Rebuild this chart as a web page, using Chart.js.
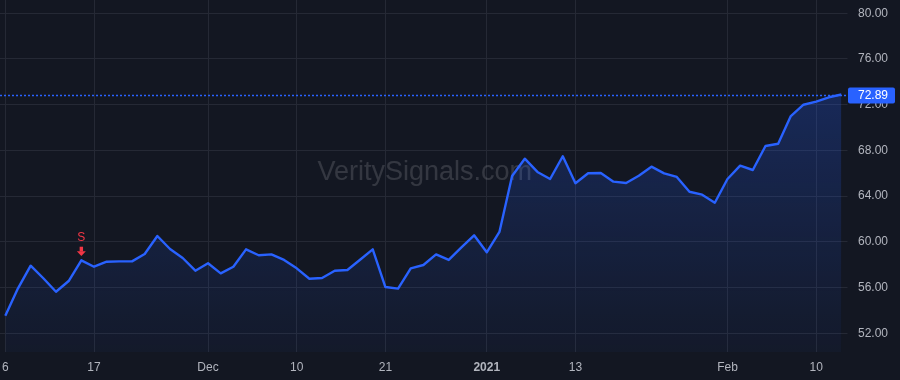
<!DOCTYPE html>
<html>
<head>
<meta charset="utf-8">
<script src="https://cdn.jsdelivr.net/npm/chart.js@4"></script>
<style>
    html, body { margin: 0; padding: 0; background: #131722; }
    #wrap { width: 900px; height: 380px; }
</style>
</head>
<body>
<div id="wrap"><canvas id="priceChart" width="900" height="380"></canvas></div>
<script>
// trading days, Nov 2020 - Feb 2021
const dates = [
    '2020-11-06', '2020-11-09', '2020-11-10', '2020-11-11', '2020-11-12', '2020-11-13',
    '2020-11-16', '2020-11-17', '2020-11-18', '2020-11-19', '2020-11-20', '2020-11-23',
    '2020-11-24', '2020-11-25', '2020-11-27', '2020-11-30', '2020-12-01', '2020-12-02',
    '2020-12-03', '2020-12-04', '2020-12-07', '2020-12-08', '2020-12-09', '2020-12-10',
    '2020-12-11', '2020-12-14', '2020-12-15', '2020-12-16', '2020-12-17', '2020-12-18',
    '2020-12-21', '2020-12-22', '2020-12-23', '2020-12-24', '2020-12-28', '2020-12-29',
    '2020-12-30', '2020-12-31', '2021-01-04', '2021-01-05', '2021-01-06', '2021-01-07',
    '2021-01-08', '2021-01-11', '2021-01-12', '2021-01-13', '2021-01-14', '2021-01-15',
    '2021-01-19', '2021-01-20', '2021-01-21', '2021-01-22', '2021-01-25', '2021-01-26',
    '2021-01-27', '2021-01-28', '2021-01-29', '2021-02-01', '2021-02-02', '2021-02-03',
    '2021-02-04', '2021-02-05', '2021-02-08', '2021-02-09', '2021-02-10', '2021-02-11',
    '2021-02-12'
];

const closes = [
    53.54, 55.94, 57.92, 56.82, 55.64, 56.58, 58.39, 57.83, 58.27, 58.30,
    58.30, 58.94, 60.52, 59.38, 58.59, 57.48, 58.13, 57.25, 57.83, 59.35,
    58.83, 58.91, 58.42, 57.69, 56.78, 56.84, 57.48, 57.54, 58.44, 59.35,
    56.05, 55.91, 57.69, 57.98, 58.91, 58.42, 59.53, 60.58, 59.09, 60.87,
    65.77, 67.28, 66.12, 65.50, 67.49, 65.13, 66.00, 66.03, 65.27, 65.15,
    65.79, 66.58, 66.00, 65.68, 64.39, 64.13, 63.43, 65.50, 66.67, 66.29,
    68.39, 68.59, 71.01, 72.00, 72.27, 72.65, 72.89
];

const tickDates = ['2020-11-06', '2020-11-17', '2020-12-01', '2020-12-10', '2020-12-21',
    '2021-01-04', '2021-01-13', '2021-02-01', '2021-02-10'];
const tickLabels = ['6', '17', 'Dec', '10', '21', '2021', '13', 'Feb', '10'];
const priceTicks = [52, 56, 60, 64, 68, 72, 76, 80];

const signalDates = ['2020-11-16'];
const signalLabels = ['S'];

const lastPrice = closes[closes.length - 1];

const LINE_COLOR = '#2962ff';
const GRID_COLOR = '#252935';
const TEXT_COLOR = '#b2b5be';
const SELL_COLOR = '#f23645';
const FONT = '"Liberation Sans", Arial, sans-serif';

const points = closes.map((v, i) => ({ x: i, y: v }));

const watermark = {
    id: 'watermark',
    beforeDatasetsDraw(chart) {
        const { ctx, chartArea } = chart;
        ctx.save();
        ctx.font = '27px ' + FONT;
        ctx.fillStyle = 'rgba(255, 255, 255, 0.14)';
        ctx.textAlign = 'center';
        ctx.textBaseline = 'middle';
        ctx.fillText('VeritySignals.com', (chartArea.left + chartArea.right) / 2 + 4, chartArea.top + chartArea.height * 0.489);
        ctx.restore();
    }
};

const overlays = {
    id: 'overlays',
    afterDraw(chart) {
        const { ctx, chartArea } = chart;
        const xs = chart.scales.x;
        const ys = chart.scales.y;

        // sell signals
        signalDates.forEach((d, k) => {
            const i = dates.indexOf(d);
            const px = xs.getPixelForValue(i);
            const py = ys.getPixelForValue(closes[i]);
            ctx.save();
            ctx.fillStyle = SELL_COLOR;
            ctx.font = '12px ' + FONT;
            ctx.textAlign = 'center';
            ctx.textBaseline = 'middle';
            ctx.fillText(signalLabels[k], px, py - 23);
            ctx.fillRect(px - 1.7, py - 13.6, 3.4, 4.8);
            ctx.beginPath();
            ctx.moveTo(px - 4.5, py - 9);
            ctx.lineTo(px + 4.5, py - 9);
            ctx.lineTo(px, py - 4.2);
            ctx.closePath();
            ctx.fill();
            ctx.restore();
        });

        // last price line + label
        const ly = Math.round(ys.getPixelForValue(lastPrice)) + 0.5;
        ctx.save();
        ctx.strokeStyle = LINE_COLOR;
        ctx.lineWidth = 1.5;
        ctx.setLineDash([2, 2]);
        ctx.beginPath();
        ctx.moveTo(0, ly);
        ctx.lineTo(chartArea.right + 6, ly);
        ctx.stroke();
        ctx.setLineDash([]);
        ctx.fillStyle = LINE_COLOR;
        ctx.beginPath();
        ctx.roundRect(chartArea.right + 6.5, ly - 8, 47, 16, 2);
        ctx.fill();
        ctx.fillStyle = '#ffffff';
        ctx.font = '12px ' + FONT;
        ctx.textAlign = 'left';
        ctx.textBaseline = 'middle';
        ctx.fillText(lastPrice.toFixed(2), chartArea.right + 16.5, ly + 0.5);
        ctx.restore();
    }
};

new Chart(document.getElementById('priceChart'), {
    type: 'line',
    data: {
        datasets: [{
            data: points,
            borderColor: LINE_COLOR,
            borderWidth: 2.4,
            borderJoinStyle: 'round',
            pointRadius: 0,
            tension: 0,
            fill: 'start',
            backgroundColor: (context) => {
                const area = context.chart.chartArea;
                if (!area) return 'rgba(41, 98, 255, 0.15)';
                const g = context.chart.ctx.createLinearGradient(0, area.top, 0, area.bottom);
                g.addColorStop(0, 'rgba(41, 98, 255, 0.32)');
                g.addColorStop(1, 'rgba(41, 98, 255, 0.04)');
                return g;
            }
        }]
    },
    options: {
        responsive: false,
        animation: false,
        layout: { padding: 0 },
        plugins: {
            legend: { display: false },
            tooltip: { enabled: false }
        },
        scales: {
            x: {
                type: 'linear',
                min: -0.42,
                max: 66,
                afterBuildTicks: (scale) => {
                    scale.ticks = tickDates.map(d => ({ value: dates.indexOf(d) }));
                },
                afterFit: (scale) => {
                    scale.height = 28;
                    scale.paddingLeft = 0;
                    scale.paddingRight = 0;
                },
                grid: { color: GRID_COLOR, drawTicks: false },
                border: { display: false },
                ticks: {
                    color: TEXT_COLOR,
                    padding: 8,
                    maxRotation: 0,
                    autoSkip: false,
                    font: (ctx) => ({
                        family: FONT,
                        size: 12,
                        weight: ctx.tick && tickLabels[tickDates.indexOf(dates[ctx.tick.value])] === '2021' ? 'bold' : 'normal'
                    }),
                    callback: (value) => tickLabels[tickDates.indexOf(dates[value])]
                }
            },
            y: {
                position: 'right',
                min: 50.37,
                max: 81.16,
                afterBuildTicks: (scale) => {
                    scale.ticks = priceTicks.map(v => ({ value: v }));
                },
                afterFit: (scale) => {
                    scale.width = 58.5;
                    scale.paddingTop = 0;
                    scale.paddingBottom = 0;
                },
                grid: { color: GRID_COLOR, tickLength: 6 },
                border: { display: false },
                ticks: {
                    color: TEXT_COLOR,
                    padding: 10.5,
                    font: { family: FONT, size: 12 },
                    callback: (value) => value.toFixed(2)
                }
            }
        }
    },
    plugins: [watermark, overlays]
});
</script>
</body>
</html>
